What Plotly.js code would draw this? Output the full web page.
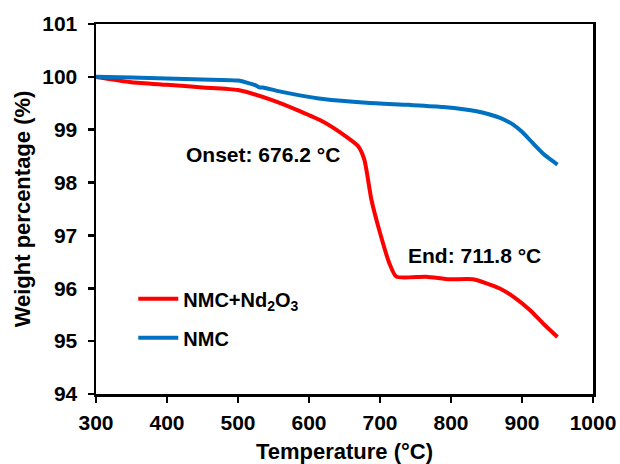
<!DOCTYPE html>
<html>
<head>
<meta charset="utf-8">
<script src="https://cdn.plot.ly/plotly-3.0.1.min.js"></script>
<style>html,body{margin:0;padding:0;background:#fff;}#chart{width:620px;height:464px;}</style>
</head>
<body>
<div id="chart"></div>
<script>
const ndTemp = [300, 350, 400, 450, 500, 550, 587, 620, 648, 669, 678, 688, 700, 713, 723, 765, 798, 831, 868, 890, 911, 930, 950];
const ndWeight = [100.0, 99.9, 99.85, 99.8, 99.75, 99.55, 99.35, 99.15, 98.91, 98.69, 98.43, 97.67, 97.05, 96.48, 96.22, 96.22, 96.17, 96.17, 96.0, 95.82, 95.59, 95.33, 95.08];
const nmcTemp = [300, 350, 400, 450, 500, 525, 530, 535, 560, 587, 620, 681, 740, 789, 836, 870, 887, 900, 915, 932, 950];
const nmcWeight = [100.0, 99.99, 99.97, 99.95, 99.93, 99.84, 99.80, 99.80, 99.72, 99.65, 99.58, 99.51, 99.47, 99.43, 99.35, 99.22, 99.10, 98.96, 98.75, 98.52, 98.34];
const xTicks = [300, 400, 500, 600, 700, 800, 900, 1000];
const yTicks = [94, 95, 96, 97, 98, 99, 100, 101];
const labels = {onset: 'Onset: 676.2 °C', end: 'End: 711.8 °C'};

const font = 'Arial, "Liberation Sans", sans-serif';
const traces = [
  {x: ndTemp, y: ndWeight, mode: 'lines', name: 'NMC+Nd<sub>2</sub>O<sub>3</sub>', legendgroup: 'a',
   line: {color: '#FF0000', width: 4, shape: 'spline', smoothing: 0.6}},
  {x: nmcTemp, y: nmcWeight, mode: 'lines', name: 'NMC', legendgroup: 'b',
   line: {color: '#0070C0', width: 4, shape: 'spline', smoothing: 0.6}}
];
const axisCommon = {
  showline: true, linecolor: '#000', linewidth: 2.5, mirror: true,
  ticks: 'outside', ticklen: 6, tickwidth: 2.5, tickcolor: '#000',
  showgrid: false, zeroline: false,
  tickfont: {family: font, size: 21, color: '#000', weight: 'bold'}
};
const layout = {
  width: 620, height: 464,
  margin: {l: 96, r: 27, t: 24, b: 70},
  paper_bgcolor: '#fff', plot_bgcolor: '#fff',
  font: {family: font, color: '#000'},
  xaxis: Object.assign({}, axisCommon, {
    range: [300, 1000], tickvals: xTicks, ticktext: xTicks.map(v => '<b>' + v + '</b>'),
    ticklabelstandoff: 2,
    title: {text: '<b>Temperature (°C)</b>', font: {family: font, size: 22, color: '#000'}, standoff: 14}
  }),
  yaxis: Object.assign({}, axisCommon, {
    range: [94, 101], tickvals: yTicks, ticktext: yTicks.map(v => '<b>' + v + '</b>'),
    ticklabelstandoff: 6,
    title: {text: '<b>Weight percentage (%)</b>', font: {family: font, size: 22, color: '#000'}, standoff: 6}
  }),
  legend: {x: 0.075, y: 0.31, xanchor: 'left', yanchor: 'top', bgcolor: 'rgba(0,0,0,0)',
    font: {family: font, size: 20, color: '#000', weight: 'bold'}, tracegroupgap: 10, itemwidth: 40},
  showlegend: true,
  annotations: [
    {x: 535, y: 98.53, xref: 'x', yref: 'y', text: '<b>' + labels.onset + '</b>', showarrow: false,
     font: {family: font, size: 21, color: '#000'}},
    {x: 833, y: 96.62, xref: 'x', yref: 'y', text: '<b>' + labels.end + '</b>', showarrow: false,
     font: {family: font, size: 21, color: '#000'}}
  ]
};
Plotly.newPlot('chart', traces, layout, {displayModeBar: false, staticPlot: true});
</script>
</body>
</html>
